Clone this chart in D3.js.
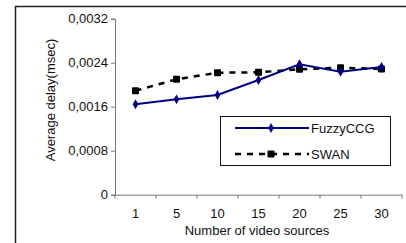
<!DOCTYPE html>
<html>
<head>
<meta charset="utf-8">
<script src="https://cdn.jsdelivr.net/npm/d3@7"></script>
<style>
body { margin: 0; background: #fff; }
text { font-family: "Liberation Sans", Arial, sans-serif; }
</style>
</head>
<body>
<script>
// values
const sources = ["1", "5", "10", "15", "20", "25", "30"];
const fuzzyCCG = [0.001644, 0.001734, 0.001813, 0.002085, 0.002371, 0.002236, 0.002322];
const swan = [0.00189, 0.002098, 0.002218, 0.002225, 0.00228, 0.00231, 0.002285];
const yTicks = [0, 0.0008, 0.0016, 0.0024, 0.0032];
const yTickLabels = ["0", "0,0008", "0,0016", "0,0024", "0,0032"];

const W = 406, H = 243;
const fs = 13;
const svg = d3.select("body").append("svg")
    .attr("width", W)
    .attr("height", H);

// outer frame (left + top only visible)
svg.append("path")
    .attr("d", "M15.5,243 V6.5 H406")
    .attr("fill", "none")
    .attr("stroke", "#222")
    .attr("stroke-width", 1.5);

const plotL = 115, plotR = 402, plotT = 18.7, plotB = 194.7;

var x = d3.scaleBand()
    .domain(sources)
    .range([plotL, plotR]);

var y = d3.scaleLinear()
    .domain([0, 0.0032])
    .range([plotB, plotT]);

var xAxis = d3.axisBottom(x).tickSize(0).tickPadding(14);
var yAxis = d3.axisLeft(y)
    .tickValues(yTicks)
    .tickFormat((d, i) => yTickLabels[i])
    .tickSize(4)
    .tickPadding(3);

var gx = svg.append("g")
    .attr("transform", "translate(0," + plotB + ")")
    .call(xAxis);
gx.select(".domain").attr("stroke", "#777");
gx.selectAll("text").attr("font-size", fs).attr("fill", "#111");

// tick marks between categories
gx.selectAll(".sep")
    .data(sources.concat(["end"]))
  .enter().append("line")
    .attr("class", "sep")
    .attr("x1", (d, i) => plotL + i * x.bandwidth())
    .attr("x2", (d, i) => plotL + i * x.bandwidth())
    .attr("y1", 0)
    .attr("y2", 4)
    .attr("stroke", "#777");

var gy = svg.append("g")
    .attr("transform", "translate(" + plotL + ",0)")
    .call(yAxis);
gy.select(".domain").attr("stroke", "#777");
gy.selectAll(".tick line").attr("stroke", "#777");
gy.selectAll("text").attr("font-size", fs).attr("fill", "#111");

svg.append("text")
    .attr("transform", "translate(50,100) rotate(-90)")
    .attr("text-anchor", "middle")
    .attr("dy", "0.35em")
    .attr("font-size", fs)
    .attr("fill", "#111")
    .text("Average delay(msec)");

svg.append("text")
    .attr("x", 257)
    .attr("y", 235)
    .attr("text-anchor", "middle")
    .attr("font-size", fs)
    .attr("fill", "#111")
    .text("Number of video sources");

var cx = d => x(d) + x.bandwidth() / 2;

var line = d3.line()
    .x((d, i) => cx(sources[i]))
    .y(d => y(d));

// SWAN
svg.append("path")
    .datum(swan)
    .attr("d", line)
    .attr("fill", "none")
    .attr("stroke", "#000")
    .attr("stroke-width", 2.5)
    .attr("stroke-dasharray", "6,6");

svg.selectAll(".swan")
    .data(swan)
  .enter().append("rect")
    .attr("x", (d, i) => cx(sources[i]) - 3.5)
    .attr("y", d => y(d) - 3.5)
    .attr("width", 7)
    .attr("height", 7)
    .attr("rx", 1)
    .attr("fill", "#000");

// FuzzyCCG
svg.append("path")
    .datum(fuzzyCCG)
    .attr("d", line)
    .attr("fill", "none")
    .attr("stroke", "#000080")
    .attr("stroke-width", 2);

var diamond = d3.symbol().type(d3.symbolDiamond).size(28);
svg.selectAll(".fz")
    .data(fuzzyCCG)
  .enter().append("path")
    .attr("d", diamond)
    .attr("transform", (d, i) => "translate(" + cx(sources[i]) + "," + y(d) + ")")
    .attr("fill", "#000080");

// legend
var lg = svg.append("g");
lg.append("rect")
    .attr("x", 220.5)
    .attr("y", 116.5)
    .attr("width", 170)
    .attr("height", 49)
    .attr("fill", "#fff")
    .attr("stroke", "#111")
    .attr("stroke-width", 1);

lg.append("line")
    .attr("x1", 235).attr("x2", 309)
    .attr("y1", 128).attr("y2", 128)
    .attr("stroke", "#000080").attr("stroke-width", 2);
lg.append("path")
    .attr("d", diamond)
    .attr("transform", "translate(271,128)")
    .attr("fill", "#000080");
lg.append("text")
    .attr("x", 311).attr("y", 128).attr("dy", "0.35em")
    .attr("font-size", fs).attr("fill", "#111")
    .text("FuzzyCCG");

lg.append("line")
    .attr("x1", 235).attr("x2", 309)
    .attr("y1", 154).attr("y2", 154)
    .attr("stroke", "#000").attr("stroke-width", 2.5)
    .attr("stroke-dasharray", "6,6");
lg.append("rect")
    .attr("x", 267.5).attr("y", 150.5)
    .attr("width", 7).attr("height", 7).attr("rx", 1)
    .attr("fill", "#000");
lg.append("text")
    .attr("x", 311).attr("y", 154).attr("dy", "0.35em")
    .attr("font-size", fs).attr("fill", "#111")
    .text("SWAN");
</script>
</body>
</html>
